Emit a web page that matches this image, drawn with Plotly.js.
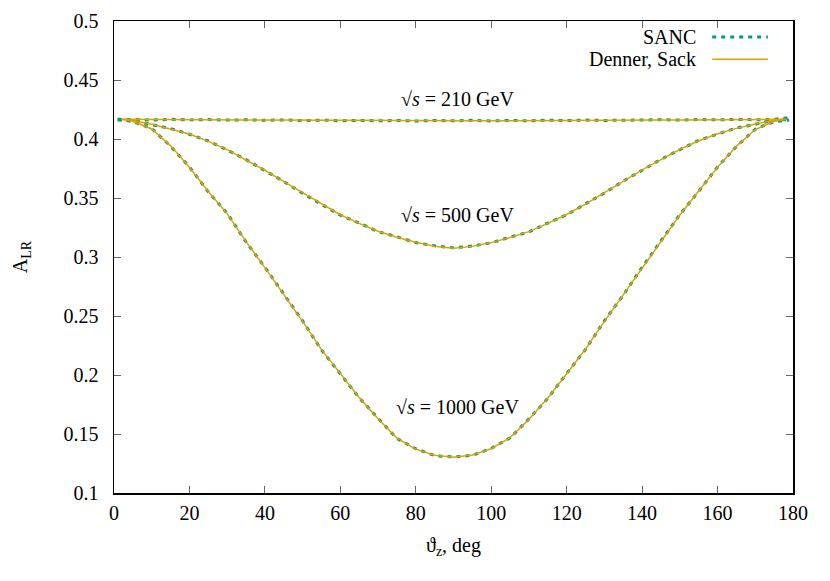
<!DOCTYPE html>
<html>
<head>
<meta charset="utf-8">
<script src="https://cdn.plot.ly/plotly-3.0.1.min.js"></script>
<style>
  html, body { margin: 0; padding: 0; background: #fff; }
  #myGraph { width: 830px; height: 581px; }
</style>
</head>
<body>
<div id="myGraph"></div>
<script>
// scattering angle of the Z, degrees
const angles = [2, 5, 10, 15, 20, 25, 30, 35, 40, 45, 50, 55, 60, 65, 70, 75, 80, 85, 90,
  95, 100, 105, 110, 115, 120, 125, 130, 135, 140, 145, 150, 155, 160, 165, 170, 175, 178];
const sancAngles = [1, 5, 10, 15, 20, 25, 30, 35, 40, 45, 50, 55, 60, 65, 70, 75, 80, 85, 90,
  95, 100, 105, 110, 115, 120, 125, 130, 135, 140, 145, 150, 155, 160, 165, 170, 175, 179];

// Denner, Sack
const ds210 = [0.4167, 0.4167, 0.4166, 0.4165, 0.4164, 0.4163, 0.4162, 0.4161, 0.4160, 0.4159, 0.4158, 0.4157, 0.4157, 0.4156, 0.4156, 0.4155, 0.4155, 0.4155, 0.4155,
  0.4155, 0.4155, 0.4155, 0.4156, 0.4156, 0.4157, 0.4157, 0.4158, 0.4159, 0.4160, 0.4161, 0.4162, 0.4163, 0.4164, 0.4165, 0.4166, 0.4167, 0.4167];
const ds500 = [0.4167, 0.4158, 0.4125, 0.4085, 0.4043, 0.3980, 0.3910, 0.3822, 0.3735, 0.3638, 0.3543, 0.3447, 0.3358, 0.3285, 0.3218, 0.3168, 0.3125, 0.3092, 0.3075,
  0.3090, 0.3122, 0.3165, 0.3215, 0.3285, 0.3360, 0.3448, 0.3545, 0.3640, 0.3738, 0.3825, 0.3912, 0.3985, 0.4045, 0.4090, 0.4128, 0.4158, 0.4167];
const ds1000 = [0.4167, 0.4150, 0.4085, 0.3942, 0.3760, 0.3555, 0.3368, 0.3130, 0.2910, 0.2685, 0.2455, 0.2215, 0.2010, 0.1810, 0.1630, 0.1465, 0.1372, 0.1320, 0.1302,
  0.1322, 0.1375, 0.1470, 0.1625, 0.1805, 0.2010, 0.2220, 0.2455, 0.2680, 0.2910, 0.3135, 0.3356, 0.3560, 0.3760, 0.3940, 0.4080, 0.4150, 0.4167];

// SANC
const sanc210 = [0.4160, 0.4166, 0.4160, 0.4167, 0.4162, 0.4165, 0.4160, 0.4163, 0.4158, 0.4162, 0.4156, 0.4160, 0.4155, 0.4158, 0.4154, 0.4157, 0.4153, 0.4157, 0.4154,
  0.4158, 0.4153, 0.4157, 0.4154, 0.4160, 0.4156, 0.4160, 0.4157, 0.4161, 0.4159, 0.4163, 0.4160, 0.4165, 0.4162, 0.4166, 0.4163, 0.4167, 0.4180];
const sanc500 = [0.4165, 0.4160, 0.4122, 0.4088, 0.4040, 0.3983, 0.3907, 0.3825, 0.3732, 0.3640, 0.3540, 0.3450, 0.3355, 0.3288, 0.3215, 0.3171, 0.3122, 0.3095, 0.3078,
  0.3093, 0.3120, 0.3168, 0.3212, 0.3288, 0.3357, 0.3451, 0.3542, 0.3643, 0.3735, 0.3828, 0.3909, 0.3988, 0.4042, 0.4093, 0.4125, 0.4160, 0.4165];
const sanc1000 = [0.4170, 0.4148, 0.4088, 0.3939, 0.3763, 0.3552, 0.3371, 0.3127, 0.2913, 0.2682, 0.2458, 0.2212, 0.2013, 0.1807, 0.1633, 0.1462, 0.1375, 0.1317, 0.1305,
  0.1319, 0.1378, 0.1467, 0.1628, 0.1802, 0.2013, 0.2217, 0.2458, 0.2677, 0.2913, 0.3132, 0.3359, 0.3557, 0.3763, 0.3937, 0.4083, 0.4148, 0.4160];

const energyLabels = ["210", "500", "1000"];
const labelY = [0.434, 0.3356, 0.173];

const green = "#009e73";
const orange = "#e69f00";
const serif = "'Liberation Serif', 'Times New Roman', Times, serif";

let dataArray = [];
[sanc210, sanc500, sanc1000].forEach(function (ys) {
  dataArray.push({
    x: sancAngles, y: ys, mode: "lines", type: "scatter", name: "SANC",
    line: { color: green, width: 3, dash: "4px,5px" }, showlegend: false,
  });
});
[ds210, ds500, ds1000].forEach(function (ys) {
  dataArray.push({
    x: angles, y: ys, mode: "lines", type: "scatter", name: "Denner, Sack",
    line: { color: orange, width: 1.5 }, showlegend: false,
  });
});

// curve labels
let annotations = energyLabels.map(function (e, i) {
  return {
    x: 91, y: labelY[i], xref: "x", yref: "y", showarrow: false,
    text: "\u221A<i>s</i> = " + e + " GeV", font: { family: serif, size: 20, color: "#000" },
  };
});

// legend drawn gnuplot-style: text on the left, key sample on the right
annotations.push(
  { x: 0.8605, y: 0.966, xref: "paper", yref: "paper", xanchor: "right", yanchor: "middle", showarrow: false,
    text: "SANC", font: { family: serif, size: 20, color: "#000" } },
  { x: 0.8605, y: 0.919, xref: "paper", yref: "paper", xanchor: "right", yanchor: "middle", showarrow: false,
    text: "Denner, Sack", font: { family: serif, size: 20, color: "#000" } }
);
const shapes = [
  { type: "line", xref: "paper", yref: "paper", x0: 0.881, x1: 0.963, y0: 0.966, y1: 0.966,
    line: { color: green, width: 3, dash: "4px,5px" } },
  { type: "line", xref: "paper", yref: "paper", x0: 0.881, x1: 0.963, y0: 0.919, y1: 0.919,
    line: { color: orange, width: 1.5 } },
];

const axisCommon = {
  showgrid: false, zeroline: false, showline: true, linecolor: "#000", linewidth: 1.5,
  mirror: "ticks", ticks: "inside", ticklen: 7, tickwidth: 1, tickcolor: "#666",
  tickfont: { family: serif, size: 20, color: "#000" },
};

var layout = {
  width: 830, height: 581,
  margin: { l: 114, r: 37, t: 21, b: 88 },
  paper_bgcolor: "#fff", plot_bgcolor: "#fff",
  font: { family: serif, size: 20, color: "#000" },
  showlegend: false,
  xaxis: Object.assign({}, axisCommon, {
    range: [0, 180], dtick: 20, tick0: 0, ticklabelstandoff: 1,
    title: { text: "\u03D1<sub>z</sub>, deg", font: { family: serif, size: 20, color: "#000" }, standoff: 15 },
  }),
  yaxis: Object.assign({}, axisCommon, {
    range: [0.1, 0.5], dtick: 0.05, tick0: 0.1, ticklabelstandoff: 10,
    title: { text: "A<sub>LR</sub>", font: { family: serif, size: 20, color: "#000" }, standoff: 30 },
  }),
  annotations: annotations,
  shapes: shapes,
};

Plotly.newPlot("myGraph", dataArray, layout, { staticPlot: true });
</script>
</body>
</html>
